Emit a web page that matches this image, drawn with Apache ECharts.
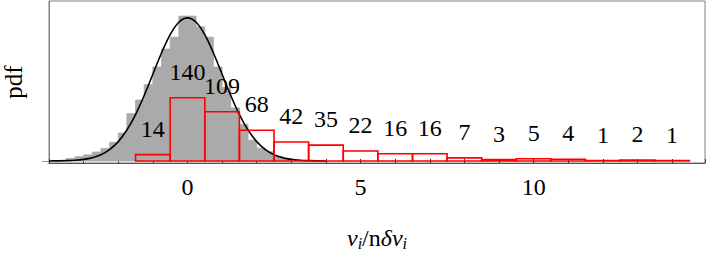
<!DOCTYPE html>
<html>
<head>
<meta charset="utf-8">
<script src="https://cdn.jsdelivr.net/npm/echarts@6.0.0/dist/echarts.min.js"></script>
<style>
  html, body { margin: 0; padding: 0; background: #fff; }
  #main { width: 706px; height: 259px; }
</style>
</head>
<body>
<div id="main"></div>
<script>
  // red histogram: bin centres and counts (bins are 1 wide)
  var redCenters = [-1, 0, 1, 2, 3, 4, 5, 6, 7, 8, 9, 10, 11, 12, 13, 14];
  var redCounts = [14, 140, 109, 68, 42, 35, 22, 16, 16, 7, 3, 5, 4, 1, 2, 1];
  var redScale = 0.00126; // counts -> pdf height in the picture

  // gray histogram: left edges and pdf heights (bins are 0.25 wide)
  var grayLeft = [-3.5, -3.25, -3, -2.75, -2.5, -2.25, -2, -1.75, -1.5, -1.25,
    -1, -0.75, -0.5, -0.25, 0, 0.25, 0.5, 0.75, 1, 1.25, 1.5, 1.75, 2, 2.25, 2.5, 2.75];
  var grayPdf = [0.007, 0.012, 0.017, 0.025, 0.035, 0.052, 0.078, 0.132, 0.170, 0.213,
    0.262, 0.312, 0.345, 0.404, 0.404, 0.374, 0.345, 0.262, 0.205, 0.148, 0.102, 0.058,
    0.036, 0.026, 0.013, 0.007];
  var grayWidth = 0.25;

  // black curve
  var curveX = [-4, -3.75, -3.5, -3.25, -3, -2.75, -2.5, -2.25, -2, -1.75, -1.5, -1.25,
    -1, -0.75, -0.5, -0.25, 0, 0.25, 0.5, 0.75, 1, 1.25, 1.5, 1.75, 2, 2.25, 2.5, 2.75,
    3, 3.25, 3.5, 3.75, 4];
  var curveY = [0.0001, 0.0004, 0.0009, 0.0020, 0.0044, 0.0091, 0.0175, 0.0317, 0.0540,
    0.0863, 0.1295, 0.1826, 0.2420, 0.3011, 0.3521, 0.3867, 0.3989, 0.3867, 0.3521,
    0.3011, 0.2420, 0.1826, 0.1295, 0.0863, 0.0540, 0.0317, 0.0175, 0.0091, 0.0044,
    0.0020, 0.0009, 0.0004, 0.0001];

  var xTickLabels = [0, 5, 10];

  var font = "'Liberation Serif', 'Times New Roman', Times, 'DejaVu Serif', serif";

  var grayData = grayLeft.map(function(l, i) { return [l, l + grayWidth, grayPdf[i]]; });
  var redData = redCenters.map(function(c, i) { return [c, redCounts[i] * redScale, redCounts[i]]; });
  var curveData = curveX.map(function(x, i) { return [x, curveY[i]]; });

  var chart = echarts.init(document.getElementById("main"), null, { renderer: "svg" });

  chart.setOption({
    animation: false,
    textStyle: { fontFamily: font },
    grid: {
      left: 49, right: 1, top: 1, bottom: 96,
      containLabel: false,
      outerBoundsMode: "none",
      show: true,
      borderColor: "#808080",
      borderWidth: 1
    },
    xAxis: {
      type: "value",
      min: -4,
      max: 14.95,
      interval: 1,
      splitLine: { show: false },
      axisLine: { onZero: false, lineStyle: { color: "#555", width: 1 } },
      axisTick: { inside: true, length: 4, lineStyle: { color: "#333" } },
      axisLabel: {
        margin: 12,
        color: "#000",
        fontFamily: font,
        fontSize: 24,
        formatter: function(v) { return xTickLabels.indexOf(v) >= 0 ? String(v) : ""; }
      },
      name: "{it|ν}{sub|i}{rm|/n}{it|δν}{sub|i}",
      nameLocation: "middle",
      nameGap: 62,
      nameTextStyle: {
        rich: {
          it: { fontFamily: font, fontStyle: "italic", fontSize: 24, color: "#000" },
          rm: { fontFamily: font, fontSize: 24, color: "#000" },
          sub: { fontFamily: font, fontStyle: "italic", fontSize: 16, color: "#000", verticalAlign: "bottom", padding: [10, 0, 0, 0] }
        }
      }
    },
    yAxis: {
      type: "value",
      min: -0.0056,
      max: 0.446,
      splitLine: { show: false },
      axisLine: { show: true, onZero: false, lineStyle: { color: "#808080" } },
      axisTick: { show: true, customValues: [0], length: 7, lineStyle: { color: "#999" } },
      axisLabel: { show: false },
      name: "pdf",
      nameLocation: "middle",
      nameRotate: 90,
      nameGap: 23,
      nameTextStyle: { fontFamily: font, fontSize: 25, color: "#000" }
    },
    series: [
      {
        type: "custom",
        clip: true,
        z: 1,
        data: grayData,
        renderItem: function(params, api) {
          var p0 = api.coord([api.value(0), api.value(2)]);
          var p1 = api.coord([api.value(1), 0]);
          return {
            type: "rect",
            shape: { x: p0[0], y: p0[1], width: p1[0] - p0[0], height: p1[1] - p0[1] },
            style: { fill: "#aaaaaa", stroke: "#aaaaaa", lineWidth: 0.8 }
          };
        }
      },
      {
        type: "custom",
        clip: true,
        z: 3,
        data: redData,
        renderItem: function(params, api) {
          var c = api.value(0);
          var p0 = api.coord([c - 0.5, api.value(1)]);
          var p1 = api.coord([c + 0.5, 0]);
          return {
            type: "group",
            children: [
              {
                type: "rect",
                shape: { x: p0[0], y: p0[1], width: p1[0] - p0[0], height: p1[1] - p0[1] },
                style: { fill: "none", stroke: "#ff0000", lineWidth: 1.6 }
              },
              {
                type: "text",
                x: (p0[0] + p1[0]) / 2,
                y: p0[1] - 26,
                style: {
                  text: String(api.value(2)),
                  fill: "#000",
                  fontSize: 24,
                  fontFamily: font,
                  align: "center",
                  verticalAlign: "middle"
                }
              }
            ]
          };
        }
      },
      {
        type: "line",
        z: 2,
        data: curveData,
        smooth: 0.3,
        showSymbol: false,
        symbol: "none",
        lineStyle: { color: "#000", width: 1.6 }
      }
    ]
  });
</script>
</body>
</html>
